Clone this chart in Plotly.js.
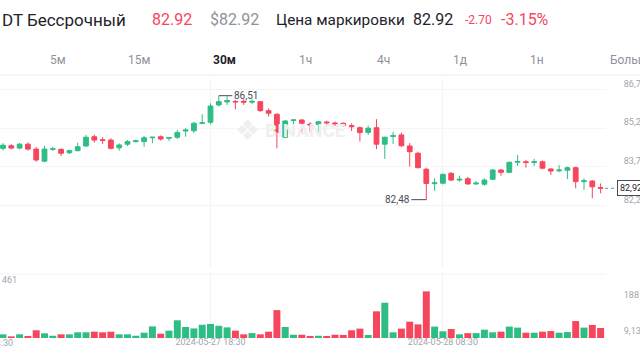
<!DOCTYPE html>
<html>
<head>
<meta charset="utf-8">
<script src="https://cdn.plot.ly/plotly-3.0.1.min.js"></script>
<style>
html,body{margin:0;padding:0;background:#fff;}
#chart{width:640px;height:360px;}
</style>
</head>
<body>
<div id="chart"></div>
<script>
// ---- data ----
const startTime = '2024-05-27T06:00:00';
const stepMinutes = 30;
const opens = [84.47,84.57,84.48,84.63,84.44,83.97,84.43,84.43,84.30,84.38,84.56,84.92,84.80,84.79,84.49,84.63,84.73,84.73,84.88,84.92,84.86,84.90,85.14,85.15,85.44,85.48,86.15,86.27,86.29,86.29,86.26,86.28,85.93,85.79,84.90,85.55,85.57,85.41,85.40,85.49,85.45,85.44,85.35,85.27,85.09,85.27,84.63,84.93,84.99,84.56,84.28,83.66,83.10,83.12,83.50,83.24,83.29,83.09,83.08,83.27,83.63,83.54,83.93,83.95,83.92,83.95,83.67,83.60,83.62,83.72,83.18,83.20,82.95];
const highs = [84.67,84.63,84.68,84.70,84.52,84.56,84.52,84.47,84.42,84.69,84.99,85.00,84.90,84.86,84.66,84.79,84.81,84.95,84.91,84.97,84.90,85.18,85.25,85.50,85.79,86.22,86.51,86.49,86.34,86.37,86.37,86.30,86.02,85.83,85.57,85.58,85.59,85.48,85.53,85.54,85.51,85.47,85.44,85.32,85.35,85.60,84.92,85.11,85.08,84.67,84.34,83.72,83.31,83.50,83.55,83.41,83.37,83.20,83.31,83.67,83.67,83.95,84.21,84.02,84.06,84.00,83.70,83.82,83.76,83.76,83.31,83.24,83.11];
const lows = [84.39,84.43,84.43,84.38,83.95,83.93,84.37,84.17,84.25,84.35,84.53,84.69,84.64,84.43,84.38,84.56,84.70,84.53,84.67,84.77,84.75,84.83,84.92,85.06,85.40,85.40,86.09,86.15,85.98,86.15,86.18,85.89,85.70,84.47,84.86,85.37,85.11,85.09,85.01,85.31,85.34,85.32,85.14,84.73,84.99,84.44,84.06,84.64,84.53,83.76,83.70,82.48,82.82,83.07,83.20,83.18,83.05,83.05,83.02,83.24,83.41,83.52,83.79,83.72,83.79,83.66,83.44,83.54,83.28,82.92,82.86,82.53,82.73];
const closes = [84.59,84.48,84.63,84.44,84.02,84.44,84.45,84.28,84.38,84.53,84.90,84.79,84.78,84.47,84.60,84.73,84.76,84.88,84.90,84.83,84.89,85.08,85.18,85.44,85.46,86.11,86.28,86.32,86.27,86.26,86.29,85.93,85.83,85.09,85.53,85.57,85.44,85.38,85.50,85.46,85.42,85.35,85.31,85.08,85.25,84.63,84.90,84.96,84.57,84.34,83.72,83.11,83.13,83.46,83.24,83.27,83.09,83.12,83.24,83.63,83.54,83.93,83.96,83.92,83.95,83.70,83.59,83.63,83.72,83.18,83.21,82.98,82.92];
const volumes = [18,8,18,10,38,23,11,18,18,28,28,31,28,31,18,18,11,26,57,21,36,87,54,47,65,69,60,52,36,18,24,18,31,137,54,16,16,10,11,10,16,15,38,46,15,131,173,28,46,80,67,229,56,33,44,18,24,24,41,28,31,56,51,26,26,31,34,26,29,83,51,64,49];
const priceTicks = [86.75, 85.25, 83.75, 82.25];
const priceTickText = ['86,75', '85,25', '83,75', '82,25'];
const volTicks = [9.13, 188];
const volTickText = ['9,13', '188'];
const timeTicks = ['2024-05-27 18:30', '2024-05-28 08:30'];
const highLabel = '86,51', lowLabel = '82,48', lastLabel = '82,92';

// time categories (30-minute candles)
function pad(n){return String(n).padStart(2,'0');}
const t0 = new Date(startTime + 'Z').getTime();
const times = opens.map((_, i) => {
  const d = new Date(t0 + i * stepMinutes * 60000);
  return d.getUTCFullYear() + '-' + pad(d.getUTCMonth()+1) + '-' + pad(d.getUTCDate()) + ' ' + pad(d.getUTCHours()) + ':' + pad(d.getUTCMinutes());
});

const GREEN = '#2ebd85', RED = '#f6465d';
const volColors = closes.map((c, i) => c >= opens[i] ? GREEN : RED);

const hiIdx = highs.indexOf(Math.max(...highs));
const loIdx = lows.indexOf(Math.min(...lows));
const lastIdx = closes.length - 1;

// layout geometry helpers (pixels -> paper)
const PW = 606, PT = 78, PB = 338, PH = PB - PT;
const px = x => x / PW;
const py = y => (PB - y) / PH;

const FONT = 'Roboto, "Noto Sans", sans-serif';
const GRAY = '#a0a5ad';

const traces = [
  {
    type: 'candlestick', x: times, open: opens, high: highs, low: lows, close: closes,
    xaxis: 'x', yaxis: 'y',
    increasing: {line: {color: GREEN, width: 1}, fillcolor: GREEN},
    decreasing: {line: {color: RED, width: 1}, fillcolor: RED},
    whiskerwidth: 0, hoverinfo: 'skip'
  },
  {
    type: 'bar', x: times, y: volumes, xaxis: 'x', yaxis: 'y2',
    marker: {color: volColors, line: {width: 0}}, hoverinfo: 'skip'
  }
];

const header = [
  {text: 'DT Бессрочный', x: 0, size: 17, color: '#1e2329'},
  {text: '82.92', x: 150, size: 16, color: RED},
  {text: '$82.92', x: 208, size: 16, color: '#8d939c'},
  {text: 'Цена маркировки', x: 274, size: 15.3, color: '#1e2329'},
  {text: '82.92', x: 411, size: 16, color: '#1e2329'},
  {text: '-2.70', x: 463, size: 12, color: RED},
  {text: '-3.15%', x: 499, size: 16, color: RED}
];
const tabs = [
  {text: '5м', x: 58}, {text: '15м', x: 139}, {text: '30м', x: 224, bold: true},
  {text: '1ч', x: 305}, {text: '4ч', x: 383}, {text: '1д', x: 460}, {text: '1н', x: 537}
];

const annotations = [];
header.forEach(h => annotations.push({
  xref: 'paper', yref: 'paper', x: px(h.x), y: py(20), xanchor: 'left', yanchor: 'middle',
  text: h.text, showarrow: false, font: {family: FONT, size: h.size, color: h.color}
}));
tabs.forEach(t => annotations.push({
  xref: 'paper', yref: 'paper', x: px(t.x), y: py(60), xanchor: 'center', yanchor: 'middle',
  text: t.bold ? '<b>' + t.text + '</b>' : t.text, showarrow: false,
  font: {family: FONT, size: 12, color: t.bold ? '#1e2329' : '#8d939c'}
}));
annotations.push({xref: 'paper', yref: 'paper', x: px(608), y: py(60), xanchor: 'left', yanchor: 'middle',
  text: 'Больше', showarrow: false, font: {family: FONT, size: 12, color: '#8d939c'}});
// watermark
annotations.push({xref: 'paper', yref: 'paper', x: px(247), y: py(130), xanchor: 'center', yanchor: 'middle',
  text: '❖', showarrow: false, font: {family: 'DejaVu Sans', size: 28, color: '#efefef'}});
annotations.push({xref: 'paper', yref: 'paper', x: px(263), y: py(130), xanchor: 'left', yanchor: 'middle',
  text: '<b>BINANCE</b>', showarrow: false, font: {family: FONT, size: 19, color: '#efefef'}});
// high / low markers
annotations.push({x: times[hiIdx], y: highs[hiIdx], xref: 'x', yref: 'y', text: highLabel,
  showarrow: true, arrowhead: 0, arrowwidth: 1, arrowcolor: '#474d57', ax: 27, ay: 0,
  font: {family: FONT, size: 10, color: '#474d57'}});
annotations.push({x: times[loIdx], y: lows[loIdx], xref: 'x', yref: 'y', text: lowLabel,
  showarrow: true, arrowhead: 0, arrowwidth: 1, arrowcolor: '#474d57', ax: -29, ay: 0,
  font: {family: FONT, size: 10, color: '#474d57'}});
// last price box
annotations.push({xref: 'paper', yref: 'y', x: px(617), y: closes[lastIdx], xanchor: 'left', yanchor: 'middle',
  text: lastLabel, showarrow: false, bgcolor: '#ffffff', bordercolor: '#474d57', borderwidth: 1, borderpad: 2,
  font: {family: FONT, size: 9, color: '#1e2329'}});
// volume label & cut-off time label
annotations.push({xref: 'paper', yref: 'paper', x: 0, y: py(280), xanchor: 'left', yanchor: 'middle',
  text: '461', showarrow: false, font: {family: FONT, size: 9, color: GRAY}});
annotations.push({xref: 'paper', yref: 'paper', x: px(-22), y: py(343), xanchor: 'center', yanchor: 'middle',
  text: '2024-05-27 04:30', showarrow: false, font: {family: FONT, size: 9, color: GRAY}});

const shapes = [
  {type: 'line', xref: 'paper', yref: 'paper', x0: 0, x1: 640 / PW, y0: py(75), y1: py(75), line: {color: '#eaecef', width: 1}},
  {type: 'line', xref: 'paper', yref: 'paper', x0: 0, x1: 1, y0: py(274), y1: py(274), line: {color: '#f3f3f3', width: 1}},
  {type: 'line', xref: 'paper', yref: 'y', x0: px(605), x1: px(617), y0: closes[lastIdx], y1: closes[lastIdx], line: {color: '#848e9c', width: 1, dash: 'dot'}}
];

const layout = {
  width: 640, height: 360,
  margin: {l: 0, r: 640 - PW, t: PT, b: 360 - PB},
  paper_bgcolor: '#ffffff', plot_bgcolor: '#ffffff',
  showlegend: false, boxgap: 0.18, bargap: 0.16,
  font: {family: FONT, color: GRAY},
  xaxis: {
    type: 'date', anchor: 'y2',
    range: ['2024-05-27 05:49:10', '2024-05-28 18:19:30'],
    rangeslider: {visible: false},
    tickvals: timeTicks, tickformat: '%Y-%m-%d %H:%M',
    tickfont: {family: FONT, size: 9, color: GRAY},
    ticklabelstandoff: -3,
    showgrid: true, gridcolor: '#f3f3f3', gridwidth: 1,
    showline: false, zeroline: false, ticks: ''
  },
  yaxis: {
    domain: [0.27, 1], range: [79.839, 87.196], side: 'right', anchor: 'x',
    tickvals: priceTicks, ticktext: priceTickText,
    ticks: 'outside', ticklen: 15, tickcolor: 'rgba(0,0,0,0)', ticklabelshift: -6,
    tickfont: {family: FONT, size: 9, color: GRAY},
    showgrid: true, gridcolor: '#f5f5f5', zeroline: false, showline: false
  },
  yaxis2: {
    domain: [0, 0.246], range: [0, 314], side: 'right', anchor: 'x',
    tickvals: volTicks, ticktext: volTickText,
    ticks: 'outside', ticklen: 15, tickcolor: 'rgba(0,0,0,0)', ticklabelshift: -5,
    tickfont: {family: FONT, size: 9, color: GRAY},
    showgrid: false, zeroline: false, showline: false
  },
  annotations: annotations, shapes: shapes
};

Plotly.newPlot('chart', traces, layout, {staticPlot: true, displayModeBar: false});
</script>
</body>
</html>
